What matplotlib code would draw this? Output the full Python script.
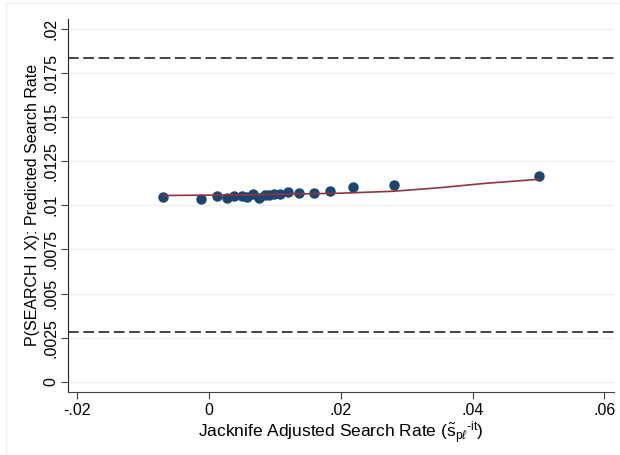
import numpy as np
import matplotlib.pyplot as plt
from matplotlib.lines import Line2D

plt.rcParams['font.family'] = ['Liberation Sans', 'DejaVu Sans']
plt.rcParams['mathtext.fontset'] = 'custom'
plt.rcParams['mathtext.rm'] = 'Liberation Sans'
plt.rcParams['mathtext.it'] = 'Liberation Sans:italic'

# binned jacknife search rate vs predicted search rate
jk_rate = [-0.00688, -0.00112, 0.00121, 0.00273, 0.00391, 0.00500, 0.00580,
           0.00676, 0.00765, 0.00853, 0.00914, 0.00997, 0.01085, 0.01202,
           0.01373, 0.01595, 0.01838, 0.02189, 0.02812, 0.05009]
pred_rate = [0.01045, 0.01037, 0.01051, 0.01044, 0.01053, 0.01054, 0.01047,
             0.01067, 0.01043, 0.01058, 0.01057, 0.01066, 0.01067, 0.01073,
             0.01070, 0.01068, 0.01084, 0.01105, 0.01117, 0.01168]

# smoothed fit
fit_x = [-0.00688, 0.0, 0.01, 0.02, 0.028, 0.035, 0.042, 0.05009]
fit_y = [0.01056, 0.01058, 0.01062, 0.01069, 0.01080, 0.01100, 0.01125, 0.01148]

# reference bounds
upper_ref = 0.01837
lower_ref = 0.0028

xticks = [-0.02, 0, 0.02, 0.04, 0.06]
xtick_labels = ['-.02', '0', '.02', '.04', '.06']
yticks = [0, 0.0025, 0.005, 0.0075, 0.01, 0.0125, 0.015, 0.0175, 0.02]
ytick_labels = ['0', '.0025', '.005', '.0075', '.01', '.0125', '.015', '.0175', '.02']

fig = plt.figure(figsize=(6.2, 4.55), dpi=100)
ax = fig.add_axes([0.109, 0.139, 0.881, 0.819])

grid_col = '#eaf2f3'
for yt in yticks:
    ax.axhline(yt, color=grid_col, lw=1.0, zorder=0)

ax.axhline(upper_ref, color='#111111', lw=1.1, dashes=(7, 3), zorder=1)
ax.axhline(lower_ref, color='#111111', lw=1.1, dashes=(7, 3), zorder=1)

ax.plot(jk_rate, pred_rate, 'o', color='#1a476f', markersize=6.5, zorder=3)
ax.plot(fit_x, fit_y, '-', color='#90353b', lw=1.2, zorder=4)

ax.set_xlim(-0.02136, 0.06141)
ax.set_ylim(-0.000567, 0.02056)
ax.set_xticks(xticks)
ax.set_xticklabels(xtick_labels)
ax.set_yticks(yticks)
ax.set_yticklabels(ytick_labels, rotation=90, va='center')

ax.spines['top'].set_visible(False)
ax.spines['right'].set_visible(False)
ax.spines['left'].set_color('#222222')
ax.spines['bottom'].set_color('#444444')
ax.tick_params(axis='both', direction='out', length=5, width=0.8,
               colors='#444444', labelcolor='black', labelsize=11.5, pad=3)
ax.tick_params(axis='y', pad=1.5)

ax.set_xlabel(r'Jacknife Adjusted Search Rate ($\tilde{\mathrm{s}}_{\mathrm{p}\ell}{}^{\mathrm{\text{-}it}}$)',
              fontsize=12.5, labelpad=1)
ax.set_ylabel('P(SEARCH I X): Predicted Search Rate', fontsize=11.5, va='center')
ax.yaxis.set_label_coords(-0.064, 0.5)

# light outer frame
fig.add_artist(Line2D([6 / 620, 6 / 620], [0, 1 - 3 / 455], color=grid_col, lw=1.0))
fig.add_artist(Line2D([6 / 620, 1], [1 - 3 / 455, 1 - 3 / 455], color=grid_col, lw=1.0))

fig.savefig('out.png', dpi=100, facecolor='white')
